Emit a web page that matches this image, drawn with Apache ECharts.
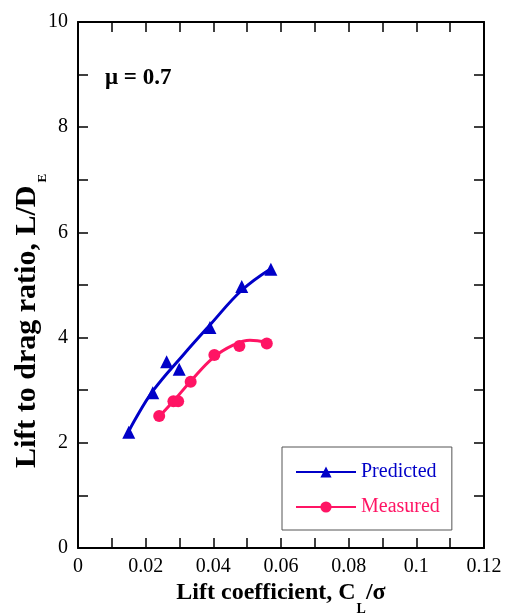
<!DOCTYPE html>
<html>
<head>
<meta charset="utf-8">
<script src="https://cdn.jsdelivr.net/npm/echarts@6/dist/echarts.min.js"></script>
<style>
html,body{margin:0;padding:0;background:#fff;}
#chart{width:506px;height:613px;}
</style>
</head>
<body>
<div id="chart"></div>
<script>
// Data
var predX = [0.0150, 0.0221, 0.0262, 0.0299, 0.0390, 0.0484, 0.0570];
var predY = [2.20, 2.95, 3.54, 3.40, 4.19, 4.97, 5.30];
var measX = [0.0240, 0.0282, 0.0296, 0.0333, 0.0403, 0.0477, 0.0558];
var measY = [2.51, 2.79, 2.79, 3.16, 3.67, 3.84, 3.89];
// Fitted curves
var predFitX = [0.0145, 0.0165, 0.0223, 0.0311, 0.0390, 0.0484, 0.0570];
var predFitY = [2.15, 2.40, 3.00, 3.67, 4.24, 4.90, 5.31];
var measFitX = [0.0240, 0.0283, 0.0333, 0.0400, 0.0460, 0.0508, 0.0558];
var measFitY = [2.50, 2.80, 3.17, 3.62, 3.86, 3.95, 3.91];
var xTicks = [0, 0.02, 0.04, 0.06, 0.08, 0.1, 0.12];
var yTicks = [0, 2, 4, 6, 8, 10];

function zip(a, b) { return a.map(function (v, i) { return [v, b[i]]; }); }

var blue = '#0000C8';
var pink = '#FF1464';
var font = 'Liberation Serif';

var chart = echarts.init(document.getElementById('chart'));
var tickCommon = { show: true, inside: true, length: 10, lineStyle: { color: '#000', width: 1.5 } };
var minorCommon = { show: true, splitNumber: 2, length: 10, lineStyle: { color: '#000', width: 1.5 } };
var lineCommon = { show: true, onZero: false, lineStyle: { color: '#000', width: 2 } };

chart.setOption({
  animation: false,
  backgroundColor: '#fff',
  grid: { left: 78, right: 22, top: 22, bottom: 65, containLabel: false, outerBoundsMode: 'none' },
  xAxis: [{
    type: 'value', min: 0, max: 0.12, interval: 0.02, position: 'bottom',
    axisLine: lineCommon, axisTick: tickCommon, minorTick: minorCommon,
    splitLine: { show: false },
    axisLabel: { fontFamily: font, fontSize: 20, color: '#000', margin: 9,
      formatter: function (v) { var r = Math.round(v * 100) / 100; return xTicks.indexOf(r) >= 0 ? String(r) : ''; } },
    name: 'Lift coefficient, C{s|L}/σ', nameLocation: 'middle', nameGap: 32, nameMoveOverlap: false,
    nameTextStyle: {
      fontFamily: font, fontSize: 24, fontWeight: 'bold', color: '#000', verticalAlign: 'top', lineHeight: 26,
      rich: { s: { fontFamily: font, fontSize: 14, fontWeight: 'bold', color: '#000', verticalAlign: 'top', lineHeight: 14, padding: [22, 0, 0, 1] } }
    }
  }, {
    type: 'value', min: 0, max: 0.12, interval: 0.02, position: 'top',
    axisLine: lineCommon, axisTick: tickCommon, minorTick: minorCommon,
    splitLine: { show: false }, axisLabel: { show: false }
  }],
  yAxis: [{
    type: 'value', min: 0, max: 10, interval: 2, position: 'left',
    axisLine: lineCommon, axisTick: tickCommon, minorTick: minorCommon,
    splitLine: { show: false },
    axisLabel: { fontFamily: font, fontSize: 20, color: '#000', margin: 10,
      formatter: function (v) { return yTicks.indexOf(v) >= 0 ? String(v) : ''; } },
    name: 'Lift to drag ratio, L/D{s|E}', nameLocation: 'middle', nameGap: 36, nameMoveOverlap: false,
    nameTextStyle: {
      fontFamily: font, fontSize: 30, fontWeight: 'bold', color: '#000', padding: [0, 72, 0, 0],
      rich: { s: { fontFamily: font, fontSize: 13, fontWeight: 'bold', color: '#000', verticalAlign: 'top', lineHeight: 13, padding: [24, 0, 0, 3] } }
    }
  }, {
    type: 'value', min: 0, max: 10, interval: 2, position: 'right',
    axisLine: lineCommon, axisTick: tickCommon, minorTick: minorCommon,
    splitLine: { show: false }, axisLabel: { show: false }
  }],
  legend: {
    orient: 'vertical', left: 282, top: 447,
    backgroundColor: '#fff', borderColor: '#555', borderWidth: 1,
    padding: [15, 12, 13, 13], itemGap: 15, itemWidth: 60, itemHeight: 14,
    textStyle: { fontFamily: font, fontSize: 20 },
    data: [
      { name: 'Predicted', textStyle: { color: blue } },
      { name: 'Measured', textStyle: { color: pink } }
    ]
  },
  graphic: [{
    type: 'text', left: 105, top: 67,
    style: { text: 'μ = 0.7', fontFamily: font, fontSize: 23, fontWeight: 'bold', fill: '#000' }
  }],
  series: [
    { name: 'Predicted', type: 'line', smooth: 0.4, data: zip(predFitX, predFitY),
      symbol: 'triangle', symbolSize: 12, showSymbol: false,
      lineStyle: { color: blue, width: 3 }, itemStyle: { color: blue } },
    { name: 'Measured', type: 'line', smooth: 0.4, data: zip(measFitX, measFitY),
      symbol: 'circle', symbolSize: 11, showSymbol: false,
      lineStyle: { color: pink, width: 3 }, itemStyle: { color: pink } },
    { name: 'Predicted', type: 'scatter', data: zip(predX, predY), symbol: 'triangle', symbolSize: 13,
      itemStyle: { color: blue, opacity: 1 }, z: 5 },
    { name: 'Measured', type: 'scatter', data: zip(measX, measY), symbol: 'circle', symbolSize: 12,
      itemStyle: { color: pink, opacity: 1 }, z: 5 }
  ]
});
</script>
</body>
</html>
